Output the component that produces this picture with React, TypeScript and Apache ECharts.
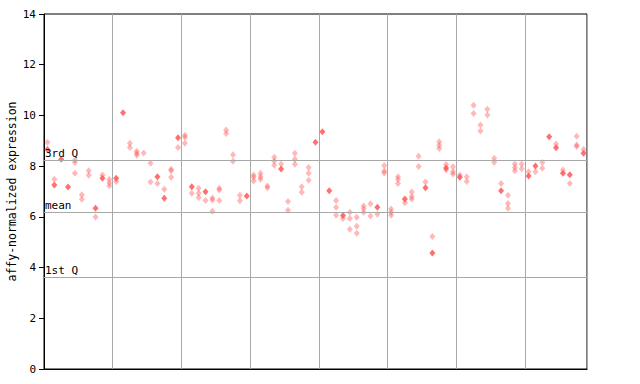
import React, { useEffect, useRef } from "react";
import * as echarts from "echarts";

const samples: string[] = Array.from({ length: 79 }, (_, i) => `S${i + 1}`);

// replicate values drawn as light (checkered) diamonds, one list per sample
const lightValues: number[][] = [
  [8.94], [7.48], [], [], [8.24, 8.14, 7.72], [6.87, 6.69], [7.82, 7.64], [5.99], [7.65], [7.48, 7.35, 7.23],
  [7.39], [], [8.9, 8.74], [8.59, 8.51, 8.43], [8.52], [8.11, 7.37], [7.32], [7.09], [7.88, 7.82, 7.56], [8.74],
  [9.22, 9.14, 8.9], [6.93], [7.13, 6.93, 6.76], [6.65], [6.74, 6.66, 6.22], [7.13, 7.06, 6.65], [9.43, 9.29], [8.45, 8.19], [6.85, 6.64], [],
  [7.65, 7.56, 7.41], [7.72, 7.58, 7.48], [7.22, 7.15], [8.35, 8.2, 8.04], [8.08], [6.61, 6.26], [8.51, 8.27, 8.07], [7.19, 6.97], [7.95, 7.72, 7.44], [],
  [], [], [6.65, 6.38, 6.06], [5.94], [6.18, 5.94, 5.51], [5.98, 5.63, 5.35], [6.43, 6.32, 6.18], [6.52, 6.03], [6.1], [8.03, 7.81, 7.73],
  [6.31, 6.18, 6.06], [7.58, 7.48, 7.32], [6.56], [6.98, 6.8, 6.7], [8.39, 7.99], [7.37], [5.23], [8.96, 8.82, 8.7], [8.06, 7.85], [7.98, 7.78, 7.69],
  [7.65], [7.58, 7.39], [10.4, 10.08], [9.62, 9.39], [10.24, 10.02], [8.31, 8.15], [7.32], [6.85, 6.53, 6.34], [8.08, 7.95, 7.82], [8.08, 7.9],
  [7.78], [7.78], [8.14, 7.92], [], [8.87], [7.85], [7.32], [9.18, 8.83, 8.77], [8.66],
];

// values drawn as solid diamonds, one list per sample
const solidValues: number[][] = [
  [8.66], [7.26], [8.27], [7.18], [], [], [], [6.34], [7.52], [],
  [7.52], [10.11], [], [], [], [], [7.58], [6.73], [], [9.12],
  [], [7.19], [], [6.99], [], [], [], [], [], [6.82],
  [], [], [], [], [7.89], [], [], [], [], [8.94],
  [9.36], [7.03], [], [6.05], [], [], [], [], [6.38], [],
  [], [], [6.7], [], [], [7.15], [4.57], [], [7.93], [],
  [7.56], [], [], [], [], [], [7.03], [], [], [],
  [7.61], [8.01], [], [9.16], [8.73], [7.72], [7.66], [], [8.51],
];

const yTicks: number[] = [0, 2, 4, 6, 8, 10, 12, 14];
const refLines: { label: string; value: number }[] = [
  { label: "3rd Q", value: 8.24 },
  { label: "mean", value: 6.2 },
  { label: "1st Q", value: 3.62 },
];

const FONT = "DejaVu Sans Mono";

export default function App() {
  const ref = useRef<HTMLDivElement>(null);
  useEffect(() => {
    if (!ref.current) return;
    const chart = echarts.init(ref.current, undefined, { renderer: "svg" });
    const light: [number, number][] = [];
    lightValues.forEach((vals, i) => vals.forEach((v) => light.push([i, v])));
    const solid: [number, number][] = [];
    solidValues.forEach((vals, i) => vals.forEach((v) => solid.push([i, v])));

    chart.setOption({
      animation: false,
      grid: {
        left: 44,
        right: 53,
        top: 14,
        bottom: 15,
        show: true,
        borderColor: "#000",
        borderWidth: 1,
        backgroundColor: "transparent",
        containLabel: false,
        outerBoundsMode: "none",
      },
      xAxis: {
        type: "category",
        data: samples,
        boundaryGap: true,
        axisLine: { lineStyle: { color: "#000", width: 1 } },
        axisTick: { show: false },
        axisLabel: { show: false },
        splitLine: { show: true, interval: 9, lineStyle: { color: "#a8a8a8", width: 1 } },
      },
      yAxis: {
        type: "value",
        min: 0,
        max: 14,
        interval: 2,
        name: "affy-normalized expression",
        nameLocation: "middle",
        nameGap: 26,
        nameMoveOverlap: false,
        nameTextStyle: { fontFamily: FONT, fontSize: 11.5, color: "#000" },
        axisLine: { show: true, lineStyle: { color: "#000", width: 1 } },
        axisTick: { show: true, length: 5, lineStyle: { color: "#000" } },
        axisLabel: {
          fontFamily: FONT,
          fontSize: 11,
          color: "#000",
          margin: 8,
          formatter: (v: number) => (yTicks.includes(v) ? String(v) : ""),
        },
        splitLine: { show: false },
      },
      series: [
        {
          type: "scatter",
          data: light,
          symbol: "diamond",
          symbolSize: [6, 7],
          itemStyle: { color: "rgba(255,80,80,0.5)" },
          markLine: {
            silent: true,
            symbol: "none",
            lineStyle: { color: "#a8a8a8", width: 1, type: "solid" },
            label: {
              show: true,
              position: "insideStartTop",
              distance: [1, 1],
              fontFamily: FONT,
              fontSize: 11,
              color: "#000",
              formatter: (p: any) => p.name,
            },
            data: refLines.map((r) => ({ name: r.label, yAxis: r.value })),
          },
          z: 3,
        },
        {
          type: "scatter",
          data: solid,
          symbol: "diamond",
          symbolSize: [6, 7],
          itemStyle: { color: "#ff4c4c" },
          z: 4,
        },
      ],
    });
    return () => chart.dispose();
  }, []);
  return (
    <div
      ref={ref}
      style={{ position: "fixed", left: 0, top: 0, width: 640, height: 384, background: "#fff" }}
    />
  );
}
